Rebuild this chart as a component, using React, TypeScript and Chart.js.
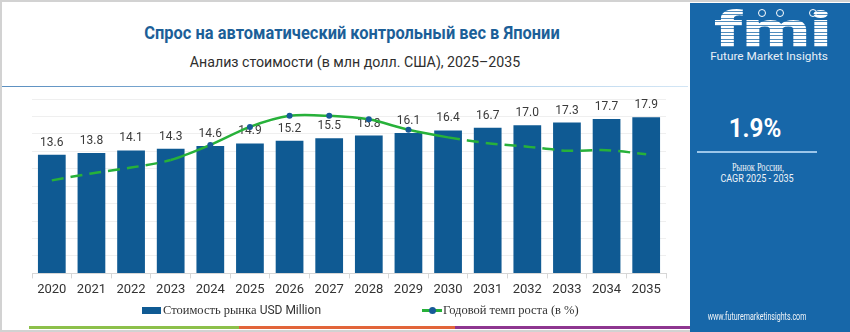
import React, { useEffect, useLayoutEffect, useRef, useState } from "react";
import { Chart, registerables } from "chart.js";

Chart.register(...registerables);

// ---- data ----
const years = ["2020", "2021", "2022", "2023", "2024", "2025", "2026", "2027", "2028", "2029", "2030", "2031", "2032", "2033", "2034", "2035"];
const marketValue = [13.6, 13.8, 14.1, 14.3, 14.6, 14.9, 15.2, 15.5, 15.8, 16.1, 16.4, 16.7, 17.0, 17.3, 17.7, 17.9];
const growthRate = [1.6, 1.72, 1.82, 1.95, 2.21, 2.52, 2.71, 2.71, 2.65, 2.47, 2.34, 2.24, 2.18, 2.11, 2.12, 2.05];

const BAR = "#0f5a93";
const LINE = "#27b13a";
const DOT = "#175a98";
const PANEL = "#1767a9";

type FitProps = { text: string; width: number; cx: number; cy: number; style?: React.CSSProperties };

function FitText({ text, width, cx, cy, style }: FitProps) {
  const ref = useRef<HTMLSpanElement>(null);
  const [s, setS] = useState(1);
  useLayoutEffect(() => {
    if (ref.current) {
      const w = ref.current.offsetWidth;
      if (w > 0) setS(width / w);
    }
  }, [text, width]);
  return (
    <span
      ref={ref}
      style={{
        position: "absolute",
        left: cx,
        top: cy,
        whiteSpace: "nowrap",
        lineHeight: 1,
        transform: `translate(-50%, -50%) scaleX(${s})`,
        transformOrigin: "50% 50%",
        ...style,
      }}
    >
      {text}
    </span>
  );
}

const barLabelPlugin = {
  id: "barLabels",
  beforeDatasetsDraw(chart: any) {
    const ctx = chart.ctx;
    const meta = chart.getDatasetMeta(1);
    ctx.save();
    ctx.font = "12px Roboto";
    ctx.fillStyle = "#3a3a3a";
    ctx.textAlign = "center";
    ctx.textBaseline = "middle";
    meta.data.forEach((el: any, i: number) => {
      ctx.fillText(marketValue[i].toFixed(1), el.x, el.y - 12);
    });
    ctx.restore();
  },
};

function ChartCanvas() {
  const canvasRef = useRef<HTMLCanvasElement>(null);
  useEffect(() => {
    if (!canvasRef.current) return;
    const dashed = (ctx: any) => (ctx.p0DataIndex < 3 || ctx.p0DataIndex >= 10 ? [12, 7] : undefined);
    const chart = new Chart(canvasRef.current, {
      type: "bar",
      data: {
        labels: years,
        datasets: [
          {
            type: "line",
            label: "Годовой темп роста (в %)",
            data: growthRate,
            yAxisID: "y1",
            borderColor: LINE,
            borderWidth: 2.5,
            tension: 0.3,
            pointRadius: (c: any) => (c.dataIndex >= 4 && c.dataIndex <= 9 ? 3 : 0),
            pointBackgroundColor: DOT,
            pointBorderWidth: 0,
            segment: { borderDash: dashed },
            order: 1,
          } as any,
          {
            type: "bar",
            label: "Стоимость рынка USD Million",
            data: marketValue,
            yAxisID: "y",
            backgroundColor: BAR,
            barPercentage: 0.7,
            categoryPercentage: 1,
            order: 2,
          },
        ],
      },
      options: {
        animation: false,
        responsive: true,
        maintainAspectRatio: false,
        layout: { padding: { left: 32, right: 24, top: 19, bottom: 3 } },
        plugins: { legend: { display: false }, tooltip: { enabled: false }, title: { display: false } },
        scales: {
          x: {
            grid: { offset: true, drawOnChartArea: false, drawTicks: true, tickLength: 5, color: "#d6d6d6" },
            border: { display: true, color: "#d6d6d6" },
            ticks: { font: { family: "Roboto", size: 13 }, color: "#333", padding: 4, maxRotation: 0 },
          },
          y: {
            min: 0,
            max: 20,
            ticks: { stepSize: 2, display: false },
            grid: { color: "#efefef", drawTicks: false },
            border: { display: false },
          },
          y1: { min: 0, max: 3, display: false },
        },
      },
      plugins: [barLabelPlugin],
    });
    return () => chart.destroy();
  }, []);
  return (
    <div style={{ position: "absolute", left: 0, top: 80, width: 690, height: 225 }}>
      <canvas ref={canvasRef} />
    </div>
  );
}

export default function App() {
  const serif = "'Liberation Serif', 'DejaVu Serif', serif";
  const sans = "Roboto, 'Noto Sans', sans-serif";
  return (
    <div style={{ position: "absolute", left: 0, top: 0, width: 850, height: 332, background: "#fff", overflow: "hidden", fontFamily: sans }}>
      {/* frame */}
      <div style={{ position: "absolute", left: 0, top: 0, width: 850, height: 332, boxSizing: "border-box", borderTop: "2px solid #d2d2d2", borderLeft: "2px solid #d2d2d2", borderBottom: "2px solid #d2d2d2" }} />
      {/* titles */}
      <FitText text="Спрос на автоматический контрольный вес в Японии" width={415} cx={352} cy={32} style={{ fontFamily: sans, fontWeight: 700, fontSize: 19, color: "#1c5f98" }} />
      <FitText text="Анализ стоимости (в млн долл. США), 2025–2035" width={330} cx={355} cy={62} style={{ fontFamily: sans, fontSize: 15, color: "#2e2e2e" }} />
      <div style={{ position: "absolute", left: 2, top: 86, width: 686, height: 1, background: "linear-gradient(to right, #5b8fc0, #a9cbe8 60%, #d3e6f5)" }} />

      <ChartCanvas />

      {/* legend */}
      <div style={{ position: "absolute", left: 142, top: 307, width: 19, height: 7, background: BAR }} />
      <div style={{ position: "absolute", left: 163, top: 302, height: 16, lineHeight: "16px", whiteSpace: "nowrap", fontSize: 12, color: "#333" }}>
        <span style={{ fontFamily: serif, fontSize: 12.5 }}>Стоимость рынка </span>
        <span style={{ fontFamily: sans, fontSize: 12 }}>USD Million</span>
      </div>
      <div style={{ position: "absolute", left: 422, top: 309, width: 20, height: 2.5, background: LINE }} />
      <div style={{ position: "absolute", left: 429, top: 307, width: 7, height: 7, borderRadius: "50%", background: DOT }} />
      <div style={{ position: "absolute", left: 443, top: 302, height: 16, lineHeight: "16px", whiteSpace: "nowrap", fontSize: 12.5, color: "#333", fontFamily: serif }}>
        Годовой темп роста (в %)
      </div>

      {/* bottom strip */}
      <div style={{ position: "absolute", left: 29, top: 326, width: 210, height: 3, background: "#8cc04a" }} />
      <div style={{ position: "absolute", left: 239, top: 326, width: 216, height: 3, background: "#e2653a" }} />
      <div style={{ position: "absolute", left: 455, top: 326, width: 235, height: 3, background: "#8e3690" }} />

      {/* right panel */}
      <div style={{ position: "absolute", left: 690, top: 3, width: 160, height: 329, background: PANEL }}>
        <FitText
          text="fmi"
          width={117}
          cx={83}
          cy={27}
          style={{
            fontFamily: sans,
            fontWeight: 900,
            fontSize: 50,
            color: "transparent",
            backgroundImage: "repeating-linear-gradient(to bottom, #ffffff 0px, #ffffff 2.5px, rgba(255,255,255,0.25) 2.5px, rgba(255,255,255,0.25) 3.5px)",
            WebkitBackgroundClip: "text",
            backgroundClip: "text",
          }}
        />
        <div style={{ position: "absolute", left: 68, top: 6, width: 8, height: 8, borderRadius: "50%", border: "1.5px solid #fff", boxSizing: "border-box" }} />
        <div style={{ position: "absolute", left: 86, top: 6, width: 8, height: 8, borderRadius: "50%", border: "1.5px solid #fff", boxSizing: "border-box" }} />
        <div style={{ position: "absolute", left: 119, top: 6, width: 8, height: 8, borderRadius: "50%", border: "1.5px solid #fff", boxSizing: "border-box" }} />
        <FitText text="Future Market Insights" width={118} cx={79} cy={53} style={{ fontFamily: sans, fontSize: 11, color: "#e8f0f8" }} />
        <FitText text="1.9%" width={53} cx={65} cy={125} style={{ fontFamily: sans, fontWeight: 700, fontSize: 26, color: "#fff" }} />
        <div style={{ position: "absolute", left: 7, top: 148, width: 120, height: 2, background: "#9cc6ea" }} />
        <FitText text="Рынок России," width={52} cx={68} cy={165} style={{ fontFamily: serif, fontSize: 11.5, color: "#f0f4f8" }} />
        <FitText text="CAGR 2025 - 2035" width={73} cx={67} cy={176} style={{ fontFamily: sans, fontSize: 11.5, color: "#f0f4f8" }} />
        <FitText text="www.futuremarketinsights.com" width={99} cx={67} cy={314} style={{ fontFamily: sans, fontSize: 10, color: "#f0f4f8" }} />
      </div>
    </div>
  );
}
